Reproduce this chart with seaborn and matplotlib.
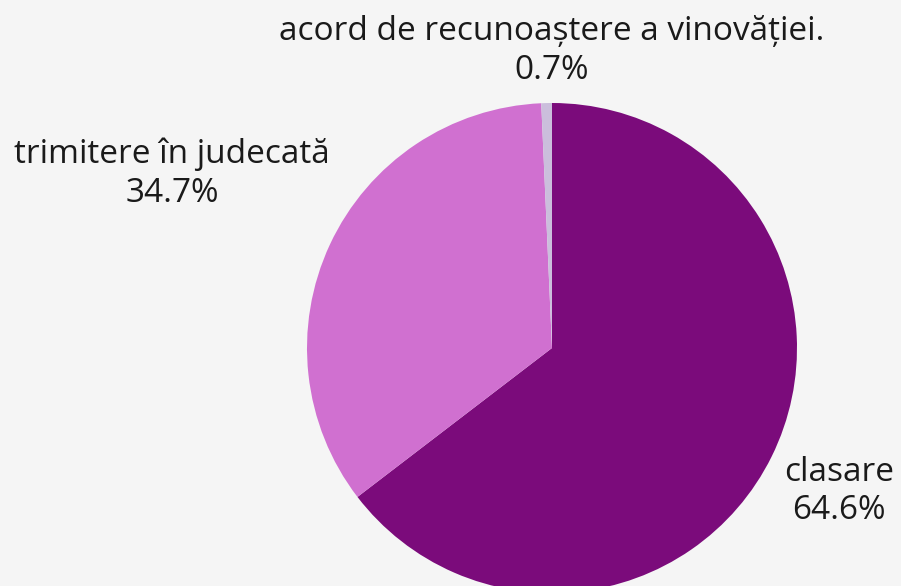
import matplotlib
matplotlib.use("Agg")
import matplotlib.pyplot as plt
import seaborn as sns

categories = ["clasare", "trimitere în judecată", "acord de recunoaștere a vinovăției."]
values = [64.6, 34.7, 0.7]
pct_labels = ["64.6%", "34.7%", "0.7%"]
colors = ["#7B0B7B", "#D070D0", "#CBBEDC"]

sns.set_style("white", {"axes.facecolor": "#F5F5F5", "figure.facecolor": "#F5F5F5"})
plt.rcParams['font.family'] = ['Open Sans', 'DejaVu Sans']

fig = plt.figure(figsize=(9.01, 5.86), dpi=100, facecolor="#F5F5F5")
W, H = 901, 586
cx, cy, r = 552, 348, 245
ax = fig.add_axes([(cx - r) / W, (H - cy - r) / H, 2 * r / W, 2 * r / H])
ax.set_facecolor("#F5F5F5")
ax.pie(values, colors=colors, startangle=90, counterclock=False, radius=1,
       wedgeprops=dict(linewidth=0))
ax.set_xlim(-1, 1)
ax.set_ylim(-1, 1)
ax.set_aspect("equal")
ax.axis("off")

label_pos = [(1.171, -0.585), (-1.551, 0.712), (0.0, 1.212)]
for cat, pl, (x, y) in zip(categories, pct_labels, label_pos):
    ax.text(x, y, f"{cat}\n{pl}", ha="center", va="center", fontsize=24,
            color="#1a1a1a", linespacing=1.22, clip_on=False)

fig.savefig("out.png", dpi=100, facecolor="#F5F5F5")
